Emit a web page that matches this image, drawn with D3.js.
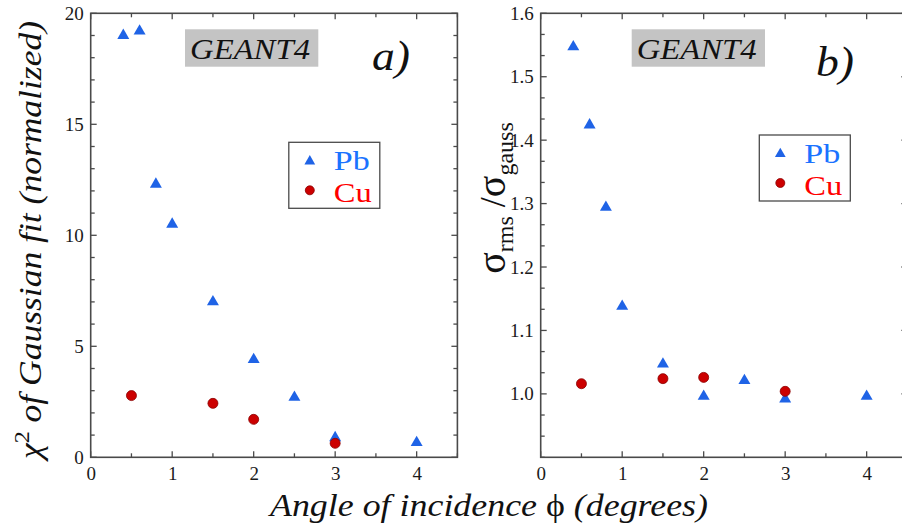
<!DOCTYPE html>
<html>
<head>
<meta charset="utf-8">
<script src="https://cdn.jsdelivr.net/npm/d3@7"></script>
<style>
  html, body { margin: 0; padding: 0; background: #fff; }
  svg { display: block; }
</style>
</head>
<body>
<svg id="chart" width="902" height="529"></svg>
<script>
// ---- data ----
const xTicks = [0, 1, 2, 3, 4];
const yTicksA = [0, 5, 10, 15, 20];
const yTicksB = [1.0, 1.1, 1.2, 1.3, 1.4, 1.5, 1.6];

const pbAngle = [0.4, 0.6, 0.8, 1.0, 1.5, 2.0, 2.5, 3.0, 4.0];
const pbChi2  = [19.0, 19.2, 12.3, 10.5, 7.0, 4.4, 2.7, 0.88, 0.66];
const pbRatio = [1.547, 1.424, 1.294, 1.138, 1.047, 0.996, 1.021, 0.992, 0.996];

const cuAngle = [0.5, 1.5, 2.0, 3.0];
const cuChi2  = [2.78, 2.43, 1.71, 0.63];
const cuRatio = [1.016, 1.024, 1.026, 1.004];

const seriesNames = ["Pb", "Cu"];

// ---- pick an installed serif font ----
function hasFont(name) {
  const c = document.createElement("canvas").getContext("2d");
  const s = "mmmmmmmmmmlliWWgg0123456789";
  let diff = false;
  ["monospace", "sans-serif"].forEach(base => {
    c.font = `40px ${base}`;
    const w0 = c.measureText(s).width;
    c.font = `40px "${name}", ${base}`;
    const w1 = c.measureText(s).width;
    if (Math.abs(w1 - w0) > 0.5) diff = true;
  });
  return diff;
}
const serifCandidates = ["Liberation Serif", "Tinos", "Times New Roman", "Times", "Nimbus Roman",
  "FreeSerif", "DejaVu Serif", "Noto Serif", "Georgia"];
const found = serifCandidates.find(hasFont);
const FONT = found ? `"${found}", serif` : "serif";

// ---- styles ----
const frameColor = "#4a4a4a";
const pbColor = "#1f63e6";
const pbText = "#1a73ff";
const cuColor = "#cc0000";
const cuStroke = "#8a0000";
const cuText = "#ff0000";

const svg = d3.select("#chart");

function fit(sel, len) {
  sel.attr("textLength", len).attr("lengthAdjust", "spacingAndGlyphs");
  return sel;
}

function panel(opts) {
  const g = svg.append("g");
  const x = d3.scaleLinear().domain([0, 4.5]).range(opts.xr);
  const y = d3.scaleLinear().domain(opts.ydom).range([457.3, 13.3]);
  const [x0, x1] = opts.xr;
  const y0 = 457.3, y1 = 13.3;

  const xMinor = d3.range(0, 4.5001, 0.5);
  const yMinor = opts.yMinor;

  const tk = g.append("g").attr("stroke", frameColor).attr("stroke-width", 1.3);
  xMinor.forEach(v => {
    const major = Math.abs(v - Math.round(v)) < 1e-6;
    const L = major ? 6 : 4;
    tk.append("line").attr("x1", x(v)).attr("x2", x(v)).attr("y1", y0).attr("y2", y0 - L);
    tk.append("line").attr("x1", x(v)).attr("x2", x(v)).attr("y1", y1).attr("y2", y1 + L);
  });
  yMinor.forEach(v => {
    const major = opts.yTicks.some(t => Math.abs(t - v) < 1e-6);
    const L = major ? 6 : 4;
    tk.append("line").attr("x1", x0).attr("x2", x0 + L).attr("y1", y(v)).attr("y2", y(v));
    tk.append("line").attr("x1", x1).attr("x2", x1 - L).attr("y1", y(v)).attr("y2", y(v));
  });

  g.append("rect").attr("x", x0).attr("y", y1).attr("width", x1 - x0).attr("height", y0 - y1)
    .attr("fill", "none").attr("stroke", frameColor).attr("stroke-width", 1.6);

  const xa = g.append("g").attr("transform", `translate(0,${y0})`)
    .call(d3.axisBottom(x).tickValues(xTicks).tickSize(0).tickPadding(9).tickFormat(d3.format("d")));
  xa.select(".domain").remove();
  xa.attr("font-family", FONT);
  xa.selectAll("text").attr("font-size", 19).attr("fill", "#1a1a1a").attr("font-family", FONT);

  const ya = g.append("g").attr("transform", `translate(${x0},0)`)
    .call(d3.axisLeft(y).tickValues(opts.yTicks).tickSize(0).tickPadding(7).tickFormat(opts.fmt));
  ya.select(".domain").remove();
  ya.attr("font-family", FONT);
  ya.selectAll("text").attr("font-size", 19).attr("fill", "#1a1a1a").attr("font-family", FONT);

  const tri = d3.symbol().type(d3.symbolTriangle).size(62);
  g.append("g").selectAll("path").data(opts.pb).join("path")
    .attr("d", tri).attr("fill", pbColor)
    .attr("transform", d => `translate(${x(d[0])},${y(d[1])})`);
  g.append("g").selectAll("circle").data(opts.cu).join("circle")
    .attr("cx", d => x(d[0])).attr("cy", d => y(d[1])).attr("r", 5)
    .attr("fill", cuColor).attr("stroke", cuStroke).attr("stroke-width", 0.8);

  const gb = opts.geant;
  g.append("rect").attr("x", gb[0]).attr("y", 29.3).attr("width", 133.3).attr("height", 37.4)
    .attr("fill", "#c4c4c4");
  fit(g.append("text").attr("x", gb[0] + 5).attr("y", 59).attr("font-family", FONT)
    .attr("font-size", 30).attr("font-style", "italic").attr("fill", "#111").text("GEANT4"), 120);

  fit(g.append("text").attr("x", opts.letter[0]).attr("y", opts.letter[1]).attr("font-family", FONT)
    .attr("font-size", 42).attr("font-style", "italic").attr("fill", "#111").text(opts.letter[2]), 38);

  const lg = opts.legend;
  g.append("rect").attr("x", lg[0]).attr("y", lg[1]).attr("width", 91).attr("height", 66)
    .attr("fill", "#fff").attr("stroke", frameColor).attr("stroke-width", 1.3);
  g.append("path").attr("d", d3.symbol().type(d3.symbolTriangle).size(50))
    .attr("fill", pbColor).attr("transform", `translate(${lg[0] + 21},${lg[1] + 19})`);
  g.append("circle").attr("cx", lg[0] + 21).attr("cy", lg[1] + 48).attr("r", 4.5)
    .attr("fill", cuColor).attr("stroke", cuStroke).attr("stroke-width", 0.8);
  fit(g.append("text").attr("x", lg[0] + 45).attr("y", lg[1] + 28).attr("font-size", 28)
    .attr("font-family", FONT).attr("fill", pbText).text(seriesNames[0]), 36);
  fit(g.append("text").attr("x", lg[0] + 45).attr("y", lg[1] + 59.5).attr("font-size", 28)
    .attr("font-family", FONT).attr("fill", cuText).text(seriesNames[1]), 38);
  return g;
}

panel({
  xr: [90.7, 457.4],
  ydom: [0, 20],
  yTicks: yTicksA,
  yMinor: d3.range(0, 20.001, 1),
  fmt: d3.format("d"),
  pb: pbAngle.map((a, i) => [a, pbChi2[i]]),
  cu: cuAngle.map((a, i) => [a, cuChi2[i]]),
  geant: [185],
  letter: [372, 70, "a)"],
  legend: [288.8, 142.3]
});

panel({
  xr: [540.7, 907.4],
  ydom: [0.9, 1.6],
  yTicks: yTicksB,
  yMinor: d3.range(0, 22).map(i => 0.9 + i / 30),
  fmt: d3.format(".1f"),
  pb: pbAngle.map((a, i) => [a, pbRatio[i]]),
  cu: cuAngle.map((a, i) => [a, cuRatio[i]]),
  geant: [631.7],
  letter: [816, 76, "b)"],
  legend: [759.3, 135]
});

// axis titles
fit(svg.append("text").attr("transform", "translate(41,240) rotate(-90)").attr("font-family", FONT)
  .attr("text-anchor", "middle").attr("font-size", 31).attr("font-style", "italic").attr("fill", "#111")
  .html('χ<tspan dy="-12" font-size="21" font-style="normal">2</tspan><tspan dy="12"> of Gaussian fit (normalized)</tspan>'), 438);

fit(svg.append("text").attr("x", 489).attr("y", 516).attr("font-family", FONT)
  .attr("text-anchor", "middle").attr("font-size", 31).attr("font-style", "italic").attr("fill", "#111")
  .html('Angle of incidence <tspan font-style="normal">ϕ</tspan> (degrees)'), 438);

svg.append("text").attr("transform", "translate(505,198) rotate(-90)").attr("font-family", FONT)
  .attr("text-anchor", "middle").attr("font-size", 40).attr("fill", "#111")
  .html('σ<tspan dy="8" font-size="24">rms</tspan><tspan dy="-8" font-size="36"> /</tspan>σ<tspan dy="8" font-size="24">gauss</tspan>');
</script>
</body>
</html>
